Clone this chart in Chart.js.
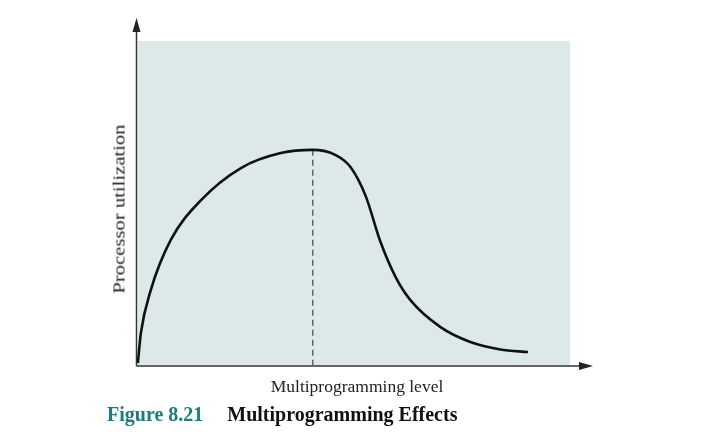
<!DOCTYPE html>
<html>
<head>
<meta charset="utf-8">
<script src="https://cdn.jsdelivr.net/npm/chart.js@4"></script>
<style>
    body { margin: 0; background: #fff; }
    #wrap { position: relative; width: 709px; height: 444px; }
    #chart { position: absolute; left: 0; top: 0; }
    .lbl { position: absolute; font-family: "Liberation Serif", "DejaVu Serif", serif; color: #222; white-space: nowrap; }
    #xTitle { left: 357px; top: 386px; font-size: 17.5px; transform: translate(-50%, -50%); }
    #yTitle { left: 119px; top: 209px; font-size: 17.5px; transform: translate(-50%, -50%) rotate(-90deg) scaleX(1.18); }
    #caption { left: 107px; top: 403px; font-size: 20px; font-weight: bold; color: #111; }
    #caption .fig { color: #1e7b7b; margin-right: 24px; }
</style>
</head>
<body>
<div id="wrap">
    <canvas id="chart" width="709" height="444"></canvas>
    <div class="lbl" id="xTitle">Multiprogramming level</div>
    <div class="lbl" id="yTitle">Processor utilization</div>
    <div class="lbl" id="caption"><span class="fig">Figure 8.21</span>Multiprogramming Effects</div>
</div>
<script>
// multiprogramming level (0-100 scale) vs processor utilization (0-100 scale)
var levels = [0.2, 0.9, 3.2, 7.8, 14.8, 24.0, 33.2, 40.6,
              45.9, 49.3, 52.8, 56.2, 59.7, 63.1, 70.1, 77.0, 83.9, 90.3];
var utilization = [0.6, 9.9, 23.2, 38.6, 50.9, 60.8, 65.4, 66.4,
                   64.8, 61.1, 52.2, 38.1, 27.2, 20.1, 11.7, 7.1, 4.8, 4.0];

// vertical dashed marker at the peak
var peakLevel = 40.6;
var peakUtil = 66.4;

var curvePoints = levels.map(function(x, i) { return { x: x, y: utilization[i] }; });

// background box + axes with arrows
var axesPlugin = {
    id: 'axesPlugin',
    beforeDatasetsDraw: function(chart) {
        var ctx = chart.ctx, a = chart.chartArea;
        ctx.save();
        ctx.fillStyle = '#dde9e9';
        ctx.fillRect(a.left + 1, a.top, a.right - a.left - 1, a.bottom - a.top);
        ctx.restore();
    },
    afterDatasetsDraw: function(chart) {
        var ctx = chart.ctx, a = chart.chartArea;
        var x0 = a.left - 0.5, y0 = a.bottom + 1;
        ctx.save();
        ctx.strokeStyle = '#333';
        ctx.fillStyle = '#222';
        ctx.lineWidth = 1.5;
        ctx.beginPath();
        ctx.moveTo(x0, y0);
        ctx.lineTo(x0, 28);
        ctx.moveTo(x0, y0);
        ctx.lineTo(582, y0);
        ctx.stroke();
        // y arrow
        ctx.beginPath();
        ctx.moveTo(x0, 18);
        ctx.lineTo(x0 - 4, 32);
        ctx.lineTo(x0 + 4, 32);
        ctx.closePath();
        ctx.fill();
        // x arrow
        ctx.beginPath();
        ctx.moveTo(593, y0);
        ctx.lineTo(579, y0 - 4);
        ctx.lineTo(579, y0 + 4);
        ctx.closePath();
        ctx.fill();
        ctx.restore();
    }
};

var ctx = document.getElementById('chart').getContext('2d');
var chart = new Chart(ctx, {
    type: 'line',
    data: {
        datasets: [{
            label: 'Processor utilization',
            data: curvePoints,
            borderColor: '#111',
            borderWidth: 2.6,
            pointRadius: 0,
            fill: false,
            cubicInterpolationMode: 'monotone'
        }, {
            label: 'Peak',
            data: [{ x: peakLevel, y: peakUtil }, { x: peakLevel, y: 0 }],
            borderColor: '#444',
            borderWidth: 1.2,
            borderDash: [6, 4],
            pointRadius: 0,
            fill: false
        }]
    },
    options: {
        responsive: false,
        animation: false,
        layout: {
            padding: { left: 137, right: 139, top: 41, bottom: 79 }
        },
        plugins: {
            legend: { display: false },
            tooltip: { enabled: false }
        },
        scales: {
            x: {
                type: 'linear',
                min: 0,
                max: 100,
                display: false
            },
            y: {
                min: 0,
                max: 100,
                display: false
            }
        }
    },
    plugins: [axesPlugin]
});
</script>
</body>
</html>
